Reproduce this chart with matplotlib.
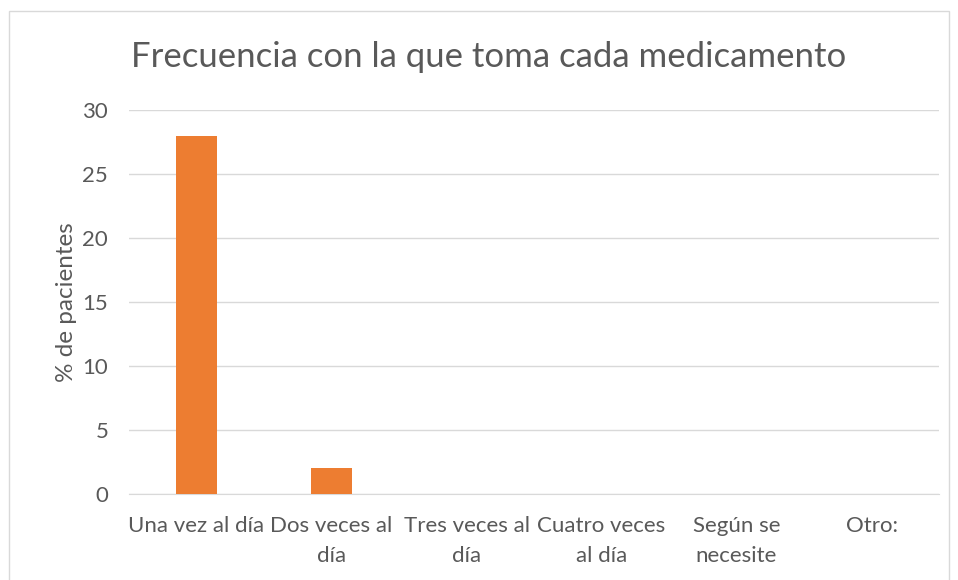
import matplotlib.pyplot as plt
import matplotlib.patches as patches

plt.rcParams['font.family'] = ['Lato', 'DejaVu Sans']

# dati
categorie = ["Una vez al día", "Dos veces al\ndía", "Tres veces al\ndía",
             "Cuatro veces\nal día", "Según se\nnecesite", "Otro:"]
valori = [28, 2, 0, 0, 0, 0]
y_ticks = [0, 5, 10, 15, 20, 25, 30]

grigio = '#595959'
griglia = '#d9d9d9'
arancio = '#ed7d31'

fig = plt.figure(figsize=(9.58, 5.8), dpi=100)
ax = fig.add_axes([0.1347, 0.1483, 0.8455, 0.662])

# bordo del grafico
fig.patches.append(patches.Rectangle((9 / 958, -0.01), 940 / 958, 1 - 11 / 580 + 0.01,
                                     transform=fig.transFigure, fill=False,
                                     edgecolor=griglia, linewidth=1))

x = range(len(categorie))
ax.bar(x, valori, width=0.31, color=arancio, zorder=3)

ax.set_xlim(-0.5, len(categorie) - 0.5)
ax.set_ylim(0, 30)
ax.set_yticks(y_ticks)
ax.set_xticks(list(x))
ax.set_xticklabels(categorie, fontsize=16, color=grigio, linespacing=1.6)
ax.tick_params(axis='y', labelsize=16, labelcolor=grigio, length=0, pad=15)
ax.tick_params(axis='x', length=0, pad=16)
ax.grid(axis='y', color=griglia, linewidth=1, zorder=0)

for s in ['top', 'right', 'left']:
    ax.spines[s].set_visible(False)
ax.spines['bottom'].set_color(griglia)

ax.set_ylabel("% de pacientes", fontsize=17.5, color=grigio, labelpad=4)
fig.text(0.5104, 0.902, "Frecuencia con la que toma cada medicamento",
         ha='center', va='center', fontsize=25, color=grigio)

fig.savefig('out.png', dpi=100)
